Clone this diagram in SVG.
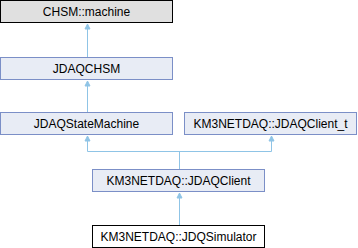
<svg xmlns="http://www.w3.org/2000/svg" width="358" height="248" viewBox="0 0 358 248">
<style>
.box{fill:#e8ecf5;stroke:#7b8fc7;stroke-width:1}
.ext{fill:#e0e0e0;stroke:#000;stroke-width:1}
.cur{fill:#fff;stroke:#000;stroke-width:1}
.lbl{font-family:"Liberation Sans",Arial,sans-serif;font-size:12px;fill:#000;text-anchor:middle}
.edge{fill:none;stroke:#8fc4e6;stroke-width:1}
.head{fill:#8fc4e6;stroke:#8fc4e6;stroke-width:1}
</style>
<g id="connectors">
<path class="edge" d="M87.5,57 V29"/>
<polygon class="head" points="87.5,24 85,29 90,29"/>
<path class="edge" d="M87.5,112 V86"/>
<polygon class="head" points="87.5,81 85,86 90,86"/>
<path class="edge" d="M87.5,141 V151.5 H271.5 V141"/>
<polygon class="head" points="87.5,136 85,141 90,141"/>
<polygon class="head" points="271.5,136 269,141 274,141"/>
<path class="edge" d="M179.5,151.5 V169"/>
<path class="edge" d="M179.5,225 V198"/>
<polygon class="head" points="179.5,193 177,198 182,198"/>
</g>
<g id="node-chsm-machine">
<rect class="ext" x="0.5" y="0.5" width="172" height="22"/>
<text class="lbl" x="86.5" y="16">CHSM::machine</text>
</g>
<g id="node-jdaqchsm">
<rect class="box" x="0.5" y="57.5" width="172" height="22"/>
<text class="lbl" x="86.5" y="73">JDAQCHSM</text>
</g>
<g id="node-jdaqstatemachine">
<rect class="box" x="0.5" y="112.5" width="172" height="22"/>
<text class="lbl" x="86.5" y="128">JDAQStateMachine</text>
</g>
<g id="node-jdaqclient-t">
<rect class="box" x="184.5" y="112.5" width="172" height="22"/>
<text class="lbl" x="270.5" y="128">KM3NETDAQ::JDAQClient_t</text>
</g>
<g id="node-jdaqclient">
<rect class="box" x="92.5" y="169.5" width="172" height="22"/>
<text class="lbl" x="178.5" y="185">KM3NETDAQ::JDAQClient</text>
</g>
<g id="node-jdqsimulator">
<rect class="cur" x="92.5" y="225.5" width="172" height="22"/>
<text class="lbl" x="178.5" y="241">KM3NETDAQ::JDQSimulator</text>
</g>
</svg>
